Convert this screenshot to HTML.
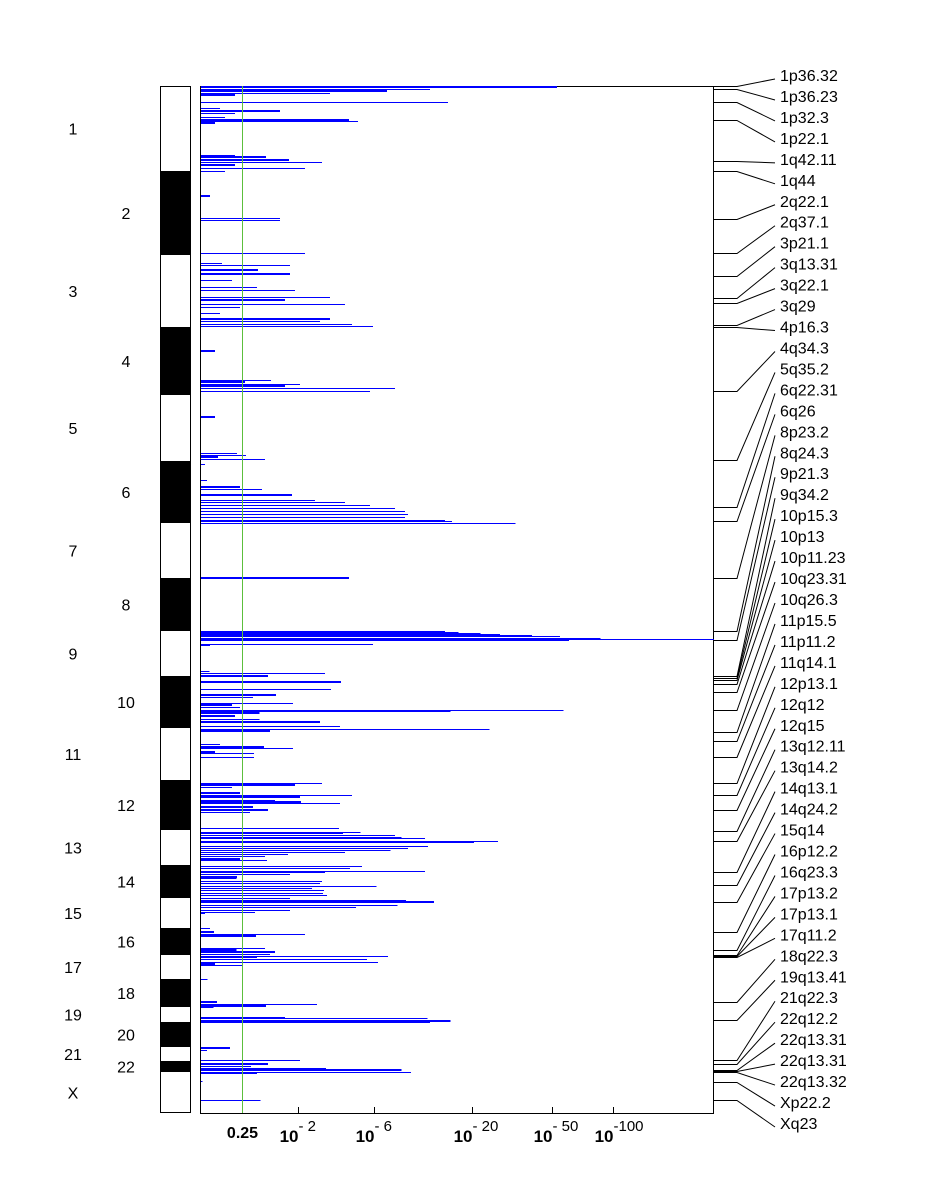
<!DOCTYPE html>
<html><head><meta charset="utf-8"><style>
html,body{margin:0;padding:0;background:#fff;}
svg{display:block;font-family:"Liberation Sans",sans-serif;}
</style></head><body>
<svg id="chart" width="948" height="1200" viewBox="0 0 948 1200" shape-rendering="crispEdges"></svg>
<script>
// ---- data ----
const chromNames=["1","2","3","4","5","6","7","8","9","10","11","12","13","14","15","16","17","18","19","20","21","22","X"];
const chromBounds=[86,171,255,327,395,461,523,578,631,676,728,780,830,865,898,928,955,979,1007,1022,1047,1061,1072,1113];
const segPos=[87,89,91,93,95,102,108,111,113,117,120,121,123,155,157,160,162,165,168,171,
196,218,220,253,
263,265,270,274,280,287,290,297,300,304,307,313,319,321,324,326,
351,380,382,384,386,388,391,417,
453,455,457,459,464,480,487,489,495,500,502,505,508,511,514,517,520,521,523,
578,631,632,633,634,635,636,638,639,640,644,645,
671,673,676,682,689,695,697,703,705,707,710,711,713,716,719,722,726,729,731,
744,747,748,752,753,757,
783,785,787,793,795,797,800,802,803,807,810,812,
828,832,833,835,837,838,841,842,846,848,850,852,854,856,859,860,
866,868,871,872,874,877,878,881,883,886,888,890,893,895,898,900,902,905,907,910,912,913,
928,932,934,936,948,950,952,954,956,957,959,962,964,965,979,
1002,1004,1006,1007,1017,1018,1021,1022,
1048,1050,1060,1064,1066,1068,1070,1072,1073,1081,1100];
const segValue=[53,12.1,7.1,3.28,0.48,15,0.25,1.44,0.48,0.32,4.28,4.85,0.18,0.48,1.09,1.7,2.91,0.48,2.23,0.32,
0.12,1.44,1.44,2.23,
0.28,1.73,0.91,1.73,0.43,0.89,1.89,3.28,1.59,4.05,0.56,0.25,3.28,2.83,4.47,5.9,
0.18,1.21,0.65,2.06,1.59,7.85,5.7,0.18,
0.51,0.67,0.22,1.07,0.06,0.08,0.56,1.0,1.8,2.61,4.05,5.7,7.85,8.9,9.2,8.9,14.5,15.7,33,
4.28,14.5,17,22,27.6,40,55,87,312,61,5.9,0.12,
0.11,3.04,1.14,3.83,3.32,1.34,0.81,1.83,0.43,0.56,57,15.4,0.95,0.48,0.95,2.83,3.78,24.5,1.19,
0.25,1.05,1.83,0.18,0.83,0.83,
2.91,1.89,0.43,0.56,4.47,2.06,1.31,2.09,3.78,0.81,1.14,0.75,
3.73,5.0,3.94,7.85,8.5,11.4,27,20.4,11.8,9.2,7.4,4.05,1.68,1.07,0.56,1.11,
5.1,4.35,11.4,3.04,1.73,0.51,0.5,2.91,2.83,6.2,2.5,2.99,2.95,3.13,1.73,9.0,12.7,8.1,4.72,1.73,0.85,0.06,
0.12,0.17,2.23,0.87,1.07,0.5,1.31,1.19,7.2,0.89,5.47,6.3,0.18,0.62,0.09,
0.21,2.7,1.09,0.16,1.59,11.7,15.4,12.1,
0.4,0.08,2.06,1.14,0.77,3.08,8.5,9.6,0.89,0.03,0.97];
const segThick=[2,1,2,1,2,1,1,2,1,1,2,1,2,1,2,2,1,2,1,1,
2,1,1,1,
1,1,2,2,1,1,1,1,2,1,1,1,2,1,1,1,
2,1,2,1,2,1,1,2,
1,1,2,1,1,1,2,1,2,1,1,1,1,1,1,1,1,1,1,
2,1,1,1,1,1,1,1,1,1,1,2,
1,1,2,2,1,2,1,1,2,1,1,2,2,2,1,2,1,1,2,
1,2,1,2,1,1,
1,2,1,2,1,2,1,2,1,2,2,1,
1,1,1,1,1,1,1,1,1,1,1,1,1,1,2,1,
1,1,1,1,1,2,1,1,1,1,1,1,1,1,1,1,2,1,1,1,1,1,
1,2,1,2,1,2,2,1,1,2,1,1,2,1,1,
2,1,2,1,1,1,2,1,
2,1,1,2,1,1,2,1,2,1,1];
const tickValues=[2,6,20,50,100];
const tickExps=["2","6","20","50","100"];
const thresholdValue=0.602; // -log10(0.25)
const peakLabels=["1p36.32","1p36.23","1p32.3","1p22.1","1q42.11","1q44","2q22.1","2q37.1","3p21.1","3q13.31","3q22.1","3q29","4p16.3","4q34.3","5q35.2","6q22.31","6q26","8p23.2","8q24.3","9p21.3","9q34.2","10p15.3","10p13","10p11.23","10q23.31","10q26.3","11p15.5","11p11.2","11q14.1","12p13.1","12q12","12q15","13q12.11","13q14.2","14q13.1","14q24.2","15q14","16p12.2","16q23.3","17p13.2","17p13.1","17q11.2","18q22.3","19q13.41","21q22.3","22q12.2","22q13.31","22q13.31","22q13.32","Xp22.2","Xq23"];
const peakPos=[86,89,102,120,161,171,219,253,276,298,303,325,327,391,460,507,521,578,631,640,676,678,680,684,692,710,732,741,757,783,795,810,831,841,872,885,902,932,950,955,956,957,1002,1020,1060,1064,1070,1071,1072,1082,1100];

// ---- scales ----
const X0=200,X1=714,Y0=86,Y1=1113;
const xScale=v=>X0+206*Math.log10(1+v);
const yScale=g=>Y0+(g-86)*(Y1-Y0)/(1113-86);
const NS="http://www.w3.org/2000/svg";
const svg=document.getElementById('chart');
function mk(tag,attrs,parent){const e=document.createElementNS(NS,tag);for(const k in attrs)e.setAttribute(k,attrs[k]);(parent||svg).appendChild(e);return e;}

// chromosome bar
const cg=mk('g',{});


for(let i=0;i<chromNames.length;i++){
  const y0=yScale(chromBounds[i]),y1=yScale(chromBounds[i+1]);
  const r=mk('rect',{x:160,y:y0,width:31,height:y1-y0,fill:i%2?'#000':'#fff'},cg);
  
  
  const t=mk('text',{x:i%2?126:73,y:(y0+y1)/2+6,'text-anchor':'middle','font-size':16,fill:'#000'},cg);
  t.textContent=chromNames[i];
  
  
}
const cb=mk('rect',{x:160.5,y:Y0+0.5,width:30,height:Y1-Y0-1,fill:'none',stroke:'#000'},cg);



// plot frame
const frame=mk('rect',{x:X0+0.5,y:Y0+0.5,width:X1-X0-1,height:Y1-Y0,fill:'none',stroke:'#000'});



// segments
const sg=mk('g',{});


for(let i=0;i<segPos.length;i++){
  const w=segThick[i];
  const r=mk('rect',{x:X0+1,y:Math.round(yScale(segPos[i])-w/2),width:Math.max(1,xScale(segValue[i])-X0-1),height:w,fill:'#0000ff'},sg);
  
  
}

// threshold line
const gx=Math.round(xScale(thresholdValue))+0.5;
const gl=mk('line',{x1:gx,x2:gx,y1:Y0,y2:Y1,stroke:'#5cbf3c','stroke-width':1});



// x axis ticks
const ag=mk('g',{});


const tl=mk('text',{x:gx,y:1138,'text-anchor':'middle','font-size':16,'font-weight':'bold'},ag);
tl.textContent='0.25';


for(let i=0;i<tickValues.length;i++){
  const x=Math.round(xScale(tickValues[i]))+0.5;
  const tk=mk('line',{x1:x,x2:x,y1:Y1-6,y2:Y1,stroke:'#000'},ag);
  
  
  const t=mk('text',{x:x,y:1142,'text-anchor':'end','font-size':17,'font-weight':'bold'},ag);
  t.textContent='10';
  
  
  const s=mk('text',{x:x,y:1131,'text-anchor':'start','font-size':15},ag);
  s.textContent='-'+(tickExps[i].length<3?'  ':'')+tickExps[i];
  s.setAttribute('xml:space','preserve');
  
  
}

// peak labels with leaders
const pg=mk('g',{});


for(let i=0;i<peakLabels.length;i++){
  const py=Math.round(yScale(peakPos[i]))+0.5;
  const ly=75+i*20.96;
  const p=mk('polyline',{points:`${X1},${py} ${X1+23},${py} ${775},${ly+4}`,fill:'none',stroke:'#000','stroke-width':1,'shape-rendering':'auto'},pg);
  
  
  const t=mk('text',{x:780,y:ly+6,'font-size':16},pg);
  t.textContent=peakLabels[i];
  
  
}
</script>
</body></html>
